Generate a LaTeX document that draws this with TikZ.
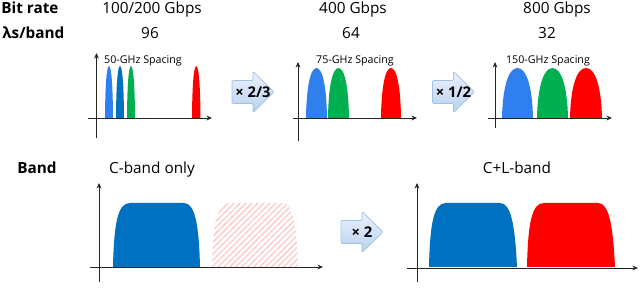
\documentclass[tikz,border=0pt]{standalone}
\usepackage{fontspec}
\setmainfont{Open Sans}
\usepackage{xcolor}
\usetikzlibrary{arrows.meta,patterns.meta}
\definecolor{chblue}{HTML}{2F7FEF}
\definecolor{chdark}{HTML}{0070C0}
\definecolor{chgreen}{HTML}{00B050}
\definecolor{chred}{HTML}{FF0000}
\definecolor{arrowedge}{HTML}{9DC3E6}
\tikzset{
  % row headers and plot titles
  rowhead/.style={font=\fontsize{10.9}{13}\selectfont\bfseries,anchor=base west,inner sep=0pt},
  colhead/.style={font=\fontsize{10.9}{13}\selectfont,anchor=base,inner sep=0pt},
  spacing/.style={font=\fontsize{7.6}{9}\selectfont,anchor=base,inner sep=0pt},
  % plot axes
  axisline/.style={line width=0.6pt,black!85,-{Stealth[length=4pt,width=3.5pt]}},
  % block arrows between the plots
  growarrow/.style={draw=arrowedge,line width=0.5pt,rounded corners=0.8pt,
    top color=blue!6,bottom color=arrowedge!75},
  multlabel/.style={font=\fontsize{10.5}{12}\selectfont\bfseries,inner sep=0pt},
  % unused L-band
  ghostband/.style={pattern={Lines[angle=45,distance=3pt,line width=0.9pt]},pattern color=chred!22},
}
\begin{document}
\begin{tikzpicture}[x=0.025cm,y=-0.025cm]
\useasboundingbox (0,0) rectangle (640,300);

%% ---- row headers ----
\node[rowhead] (hrate) at (1,13.5) {Bit rate};
\node[rowhead] (hlam)  at (2,38.5) {λs/band};
\node[rowhead] (hband) at (17,173.5) {Band};

%% ---- column headers ----
\node[colhead] (r1) at (152,13.5) {100/200 Gbps};
\node[colhead] (n1) at (150,38.5) {96};
\node[colhead] (r2) at (353,13.5) {400 Gbps};
\node[colhead] (n2) at (351,38.5) {64};
\node[colhead] (r3) at (557,13.5) {800 Gbps};
\node[colhead] (n3) at (547,38.5) {32};
\node[colhead] (b1) at (152,173.5) {C-band only};
\node[colhead] (b2) at (517,173.5) {C+L-band};

\node[spacing] (s1) at (143,63.5) {50-GHz Spacing};
\node[spacing] (s2) at (355,63.5) {75-GHz Spacing};
\node[spacing] (s3) at (548,63.5) {150-GHz Spacing};

%% ---- channel spectra ----
\foreach \xa/\xb/\tp/\c in {105/113/66/chblue, 116/124/66/chdark, 127/135/66/chgreen, 192/200.5/66/chred,
                              306/327/68/chblue, 328/349/68/chgreen, 381/401/68/chred,
                              502/533/68/chblue, 537/568/68/chgreen, 570/602/68/chred}
  \fill[\c] (\xa,118) .. controls ({\xa+0.02*(\xb-\xa)},{118-0.6*(118-\tp)}) and ({(\xa+\xb)/2-0.3*(\xb-\xa)},\tp)
    .. ({(\xa+\xb)/2},\tp) .. controls ({(\xa+\xb)/2+0.3*(\xb-\xa)},\tp) and ({\xb-0.02*(\xb-\xa)},{118-0.6*(118-\tp)})
    .. (\xb,118) -- cycle;

%% ---- band spectra ----
\fill[chdark] (113,267) .. controls (114,222) and (118,203) .. (130,203) -- (184,203)
  .. controls (195,203) and (199,225) .. (200,267) -- cycle;
\path[ghostband] (212,267) .. controls (213,222) and (217,203) .. (229,203) -- (282,203)
  .. controls (293,203) and (297,225) .. (298,267) -- cycle;
\fill[chdark] (429,267) .. controls (430,222) and (434,203) .. (446,203) -- (500,203)
  .. controls (511,203) and (515,225) .. (517,267) -- cycle;
\fill[chred] (527,267) .. controls (528,222) and (532,203) .. (544,203) -- (598,203)
  .. controls (609,203) and (613,225) .. (615,267) -- cycle;

%% ---- axes ----
\foreach \yx/\yt/\yb/\xy/\xl/\xr in {96.5/53/138/118/88/212, 298/62/141/118/293/417, 495/62/128/118/488/612,
                                     99/183/282/267/90/323, 417/183/282/268/407/638} {
  \draw[axisline] (\yx,\yb) -- (\yx,\yt);
  \draw[axisline] (\xl,\xy) -- (\xr,\xy);
}

%% ---- block arrows ----
\foreach \cx/\cy/\lab [count=\i] in {253/92/{× 2/3}, 453.5/92/{× 1/2}, 362/232/{× 2}} {
  \draw[growarrow] (\cx-21,\cy-11.5) -- (\cx,\cy-11.5) -- (\cx,\cy-20.5) -- (\cx+21,\cy)
    -- (\cx,\cy+20.5) -- (\cx,\cy+11.5) -- (\cx-21,\cy+11.5) -- cycle;
  \node[multlabel] (m\i) at (\cx,\cy) {\lab};
}
\end{tikzpicture}
\end{document}
